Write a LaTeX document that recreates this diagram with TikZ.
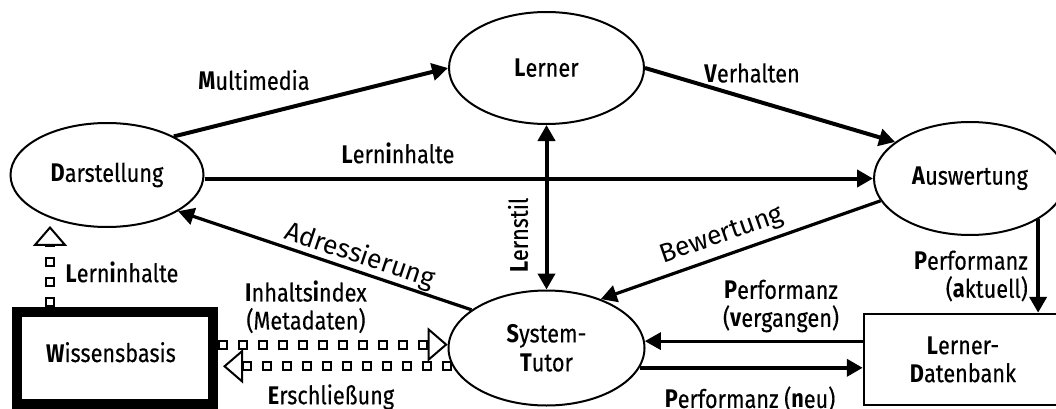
\documentclass[tikz,border=0pt]{standalone}
\usepackage{fontspec}
\setmainfont{Fira Sans}[FakeStretch=0.85, UprightFeatures={FakeBold=0.3}]
\newfontfamily\widefont{Fira Sans}
\usetikzlibrary{arrows.meta,shapes.geometric,calc}

\begin{document}
\begin{tikzpicture}[x=1pt,y=-1pt,
  every node/.style={font=\fontsize{25.5}{28}\selectfont, inner sep=0pt},
  ell/.style={draw, ellipse, line width=2pt, inner sep=0pt, align=center},
  tip/.tip={Triangle[length=16pt,width=17pt]},
  arr/.style={line width=4pt, -tip},
  arrthin/.style={line width=3.2pt, -tip},
  arrboth/.style={line width=4pt, tip-tip},
  % hollow-square line: black squares with white centres, open triangle tip
  sq/.style 2 args={line width=10pt, dash pattern=on 10pt off 10pt,
    -{Triangle[open,length=20pt,width=34pt,line width=2pt]}, shorten >=#1,
    postaction={draw=white, line width=6pt, dash pattern=on 6pt off 14pt,
      dash phase=18pt, -, shorten >=#2}},
  slanted/.style={font=\widefont\fontsize{26.5}{28}\selectfont}
]
\useasboundingbox (0,0) rectangle (1056,409);
\clip (0,0) rectangle (1056,409);

% main nodes
\node[ell, minimum width=195pt, minimum height=112pt] (lerner) at (546.5,68) {\textbf{L}erner};
\node[ell, minimum width=193pt, minimum height=104pt] (darst) at (107,175) {\textbf{D}arstellung};
\node[ell, minimum width=192pt, minimum height=113pt] (ausw) at (970,178.5) {\textbf{A}uswertung};
\node[ell, minimum width=196pt, minimum height=115pt, font=\fontsize{25.5}{29}\selectfont] (tutor) at (546.5,348) {\textbf{S}ystem-\\\textbf{T}utor};
\node[draw, line width=10pt, minimum width=196pt, minimum height=92pt,
      text height=18pt, text depth=10pt] (wiss) at (115,358) {\textbf{W}issensbasis\hspace*{8pt}};
\node[draw, line width=2.5pt, minimum width=198pt, minimum height=91pt, align=center] (ldb) at (963,359.5) {\textbf{L}erner-\\\textbf{D}atenbank};

% solid connectors
\draw[arr] (darst.30) -- (lerner.west);
\draw[arr] (lerner.east) -- (ausw.154);
\draw[arr] (ausw.west -| darst.east) -- (ausw.west);
\draw[arrthin] (ausw.194) -- (tutor.42);
\draw[arrthin] (tutor.153) -- (darst.-27);
\draw[arrboth] (lerner.south) -- (tutor.north);
\draw[arr] (ausw.-31) -- (ausw.-31 |- ldb.north);
\draw[arrthin] (tutor.4 -| ldb.west) -- (tutor.4);
\draw[arr] (tutor.-12) -- (tutor.-12 -| ldb.west);

% hollow-square connectors
\coordinate (wtop) at ([xshift=-65pt]wiss.north);
\draw[sq={8pt}{28pt}] (wtop) -- (wtop |- darst.217);
\draw[sq={0pt}{20pt}] (wiss.east |- tutor.178) -- (tutor.178);
\draw[sq={5pt}{25pt}] (tutor.191) -- (tutor.191 -| wiss.east);

% labels
\node (lmm) at (254,80) {\textbf{M}ultimedia};
\node (lvh) at (752,73) {\textbf{V}erhalten};
\node (lli) at (398,153) {\textbf{L}ern\textbf{i}nhalte};
\node[slanted, rotate=-18.6] (lad) at (360,256) {Adressierung};
\node[slanted, rotate=19.2] (lbw) at (722,236) {Bewertung};
\node[rotate=90] (lls) at (518,235) {\textbf{L}ernstil};
\node (lli2) at (122,272) {\textbf{L}ern\textbf{i}nhalte};
\node[align=center] (lix) at (306,307) {\textbf{I}nhalts\textbf{i}ndex\\(Metadaten)};
\node (lers) at (331,397) {\textbf{E}rschließung};
\node[align=center] (lpv) at (781,306) {\textbf{P}erformanz\\(\textbf{v}ergangen)};
\node (lpn) at (750,399) {\textbf{P}erformanz (\textbf{n}eu)};
\node[align=right, anchor=east] (lpa) at (1028,276) {\textbf{P}erformanz\\(\textbf{a}ktuell)};
\end{tikzpicture}
\end{document}
